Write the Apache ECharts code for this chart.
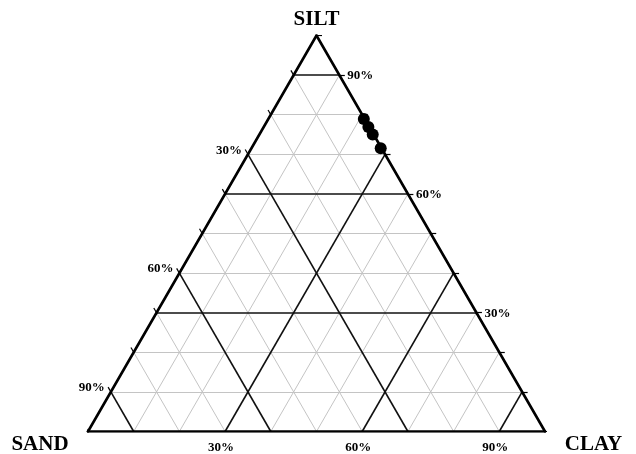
<!DOCTYPE html>
<html>
<head>
<meta charset="utf-8">
<script src="https://cdn.jsdelivr.net/npm/echarts@6/dist/echarts.min.js"></script>
<style>
  html, body { margin: 0; padding: 0; background: #ffffff; }
  #chart { width: 636px; height: 454px; }
</style>
</head>
<body>
<div id="chart"></div>
<script>
// Soil texture ternary diagram: SAND (bottom-left), SILT (top), CLAY (bottom-right)
const vertexNames = ['SAND', 'SILT', 'CLAY'];
const gridLevels = [10, 20, 30, 40, 50, 60, 70, 80, 90];
const majorLevels = [30, 60, 90];
const tickLabels = ['30%', '60%', '90%'];
const edgeTicks = [0, 10, 20, 30, 40, 50, 60, 70, 80, 90, 100];

// Samples (percent by mass)
const sampleSand = [0.2, 0.2, 0.2, 0.2];
const sampleSilt = [78.9, 76.9, 75.0, 71.5];
const sampleClay = [20.9, 22.9, 24.8, 28.3];

const H = Math.sqrt(3) / 2;
const TICK = 1.2; // tick length, in percent units

// ternary (sand, silt, clay) -> cartesian point on the unit triangle
function toXY(sand, silt, clay) {
  return [(clay + silt / 2) / 100, (silt / 100) * H];
}

function seg(a, b) {
  return { coords: [toXY(a[0], a[1], a[2]), toXY(b[0], b[1], b[2])] };
}

// grid lines at each level, for all three components
function levelLines(levels) {
  const out = [];
  levels.forEach(function (v) {
    out.push(seg([100 - v, v, 0], [0, v, 100 - v]));   // constant silt
    out.push(seg([v, 100 - v, 0], [v, 0, 100 - v]));   // constant sand
    out.push(seg([100 - v, 0, v], [0, 100 - v, v]));   // constant clay
  });
  return out;
}

const minorLevels = gridLevels.filter(function (v) { return majorLevels.indexOf(v) < 0; });

// short ticks continuing the grid lines outside each edge
const tickSegs = [];
edgeTicks.forEach(function (v) {
  tickSegs.push(seg([100 - v, 0, v], [100 - v + TICK, -TICK, v]));      // bottom edge (clay)
  tickSegs.push(seg([v, 100 - v, 0], [v, 100 - v + TICK, -TICK]));      // left edge (sand)
  tickSegs.push(seg([0, v, 100 - v], [-TICK, v, 100 - v + TICK]));      // right edge (silt)
});

const outline = [
  seg([100, 0, 0], [0, 100, 0]),
  seg([0, 100, 0], [0, 0, 100]),
  seg([0, 0, 100], [100, 0, 0])
];

const labelFont = {
  fontFamily: 'Liberation Serif', fontWeight: 'bold', color: '#000000',
  opacity: 1, textBorderWidth: 0, textShadowBlur: 0
};

// percentage labels on each edge
const sandLabels = majorLevels.map(function (v, i) {
  return { value: toXY(v, 100 - v, 0), name: tickLabels[i] };
});
const clayLabels = majorLevels.map(function (v, i) {
  return { value: toXY(100 - v, 0, v), name: tickLabels[i] };
});
const siltLabels = majorLevels.map(function (v, i) {
  return { value: toXY(0, v, 100 - v), name: tickLabels[i] };
});

const vertexPoints = [
  { value: toXY(100, 0, 0), name: vertexNames[0], label: { offset: [-48, 13.5] } },
  { value: toXY(0, 100, 0), name: vertexNames[1], label: { offset: [0, -15.5] } },
  { value: toXY(0, 0, 100), name: vertexNames[2], label: { offset: [48.5, 13.5] } }
];

const samplePoints = sampleSand.map(function (s, i) {
  return toXY(s, sampleSilt[i], sampleClay[i]);
});

function textSeries(data, label) {
  return {
    type: 'scatter',
    symbol: 'circle',
    symbolSize: 1,
    itemStyle: { color: 'rgba(255,255,255,0)', opacity: 1 },
    silent: true,
    z: 10,
    data: data,
    label: Object.assign({
      show: true,
      position: 'inside',
      formatter: function (p) { return p.name; }
    }, labelFont, label)
  };
}

const chart = echarts.init(document.getElementById('chart'), null, { renderer: 'canvas' });
chart.setOption({
  animation: false,
  backgroundColor: '#ffffff',
  grid: { left: 88, right: 91, top: 35.5, bottom: 22.5 },
  xAxis: { type: 'value', min: 0, max: 1, show: false },
  yAxis: { type: 'value', min: 0, max: H, show: false },
  series: [
    {
      type: 'lines', coordinateSystem: 'cartesian2d', silent: true, z: 1,
      lineStyle: { color: '#c4c4c4', width: 1, opacity: 1 },
      data: levelLines(minorLevels)
    },
    {
      type: 'lines', coordinateSystem: 'cartesian2d', silent: true, z: 2,
      lineStyle: { color: '#111111', width: 1.6, opacity: 1 },
      data: levelLines(majorLevels)
    },
    {
      type: 'lines', coordinateSystem: 'cartesian2d', silent: true, z: 3,
      lineStyle: { color: '#000000', width: 1.2, opacity: 1 },
      data: tickSegs
    },
    {
      type: 'lines', coordinateSystem: 'cartesian2d', silent: true, z: 4,
      lineStyle: { color: '#000000', width: 2.6, opacity: 1, cap: 'round' },
      data: outline
    },
    {
      type: 'scatter', z: 5,
      symbol: 'circle', symbolSize: 12,
      itemStyle: { color: '#000000', opacity: 1 },
      data: samplePoints
    },
    textSeries(sandLabels, { fontSize: 13, align: 'right', verticalAlign: 'middle', offset: [-6, -4] }),
    textSeries(clayLabels, { fontSize: 13, align: 'center', verticalAlign: 'middle', offset: [-4, 16] }),
    textSeries(siltLabels, { fontSize: 13, align: 'left', verticalAlign: 'middle', offset: [8, 0.5] }),
    textSeries(vertexPoints, { fontSize: 21, align: 'center', verticalAlign: 'middle' })
  ]
});
</script>
</body>
</html>
